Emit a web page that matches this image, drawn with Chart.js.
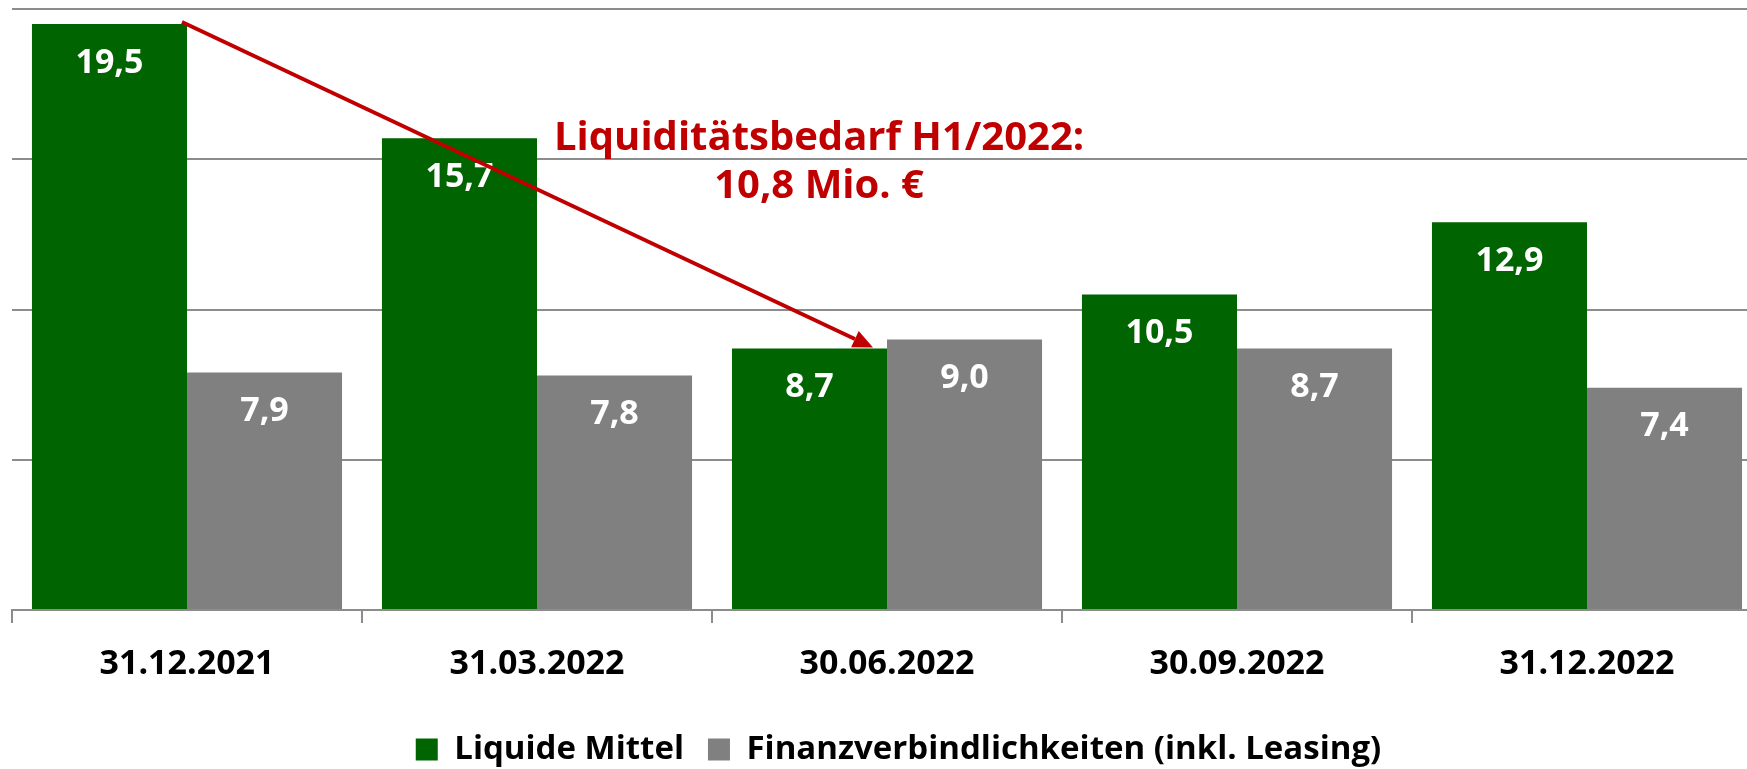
<!DOCTYPE html>
<html>
<head>
<meta charset="utf-8">
<script src="https://cdn.jsdelivr.net/npm/chart.js@4"></script>
<style>
  html, body { margin: 0; padding: 0; background: #fff; overflow: hidden; width: 1747px; height: 769px; }
  canvas { display: block; }
</style>
</head>
<body>
<canvas id="chart" width="1797" height="776"></canvas>
<script>
const categories = ["31.12.2021", "31.03.2022", "30.06.2022", "30.09.2022", "31.12.2022"];
const liquideMittel = [19.5, 15.7, 8.7, 10.5, 12.9];
const finanzVerb = [7.9, 7.8, 9.0, 8.7, 7.4];
const seriesNames = ["Liquide Mittel", "Finanzverbindlichkeiten (inkl. Leasing)"];
const noteLines = ["Liquiditätsbedarf H1/2022:", "10,8 Mio. €"];

const FONT = "'Open Sans', 'DejaVu Sans', sans-serif";
const GRID = "#8c8c8c";
const RED = "#c00000";

// white value labels inside the bars
const barLabels = {
  id: "barLabels",
  afterDatasetsDraw(chart) {
    const ctx = chart.ctx;
    ctx.save();
    ctx.fillStyle = "#fff";
    ctx.font = "bold 34px " + FONT;
    ctx.textAlign = "center";
    ctx.textBaseline = "middle";
    chart.data.datasets.forEach((ds, i) => {
      chart.getDatasetMeta(i).data.forEach((bar, j) => {
        const txt = ds.data[j].toFixed(1).replace(".", ",");
        ctx.fillText(txt, bar.x, bar.y + 39);
      });
    });
    ctx.restore();
  }
};

// red arrow from the first cash bar to the 30.06. cash bar, plus the note
const arrowNote = {
  id: "arrowNote",
  afterDatasetsDraw(chart) {
    const ctx = chart.ctx;
    const bars = chart.getDatasetMeta(0).data;
    const a = bars[0], b = bars[2];
    const x1 = a.x + a.width / 2 - 5, y1 = a.y - 2;
    const x2 = b.x + b.width / 2 - 14, y2 = b.y - 1;
    const ang = Math.atan2(y2 - y1, x2 - x1);
    const head = 20, half = 9;
    ctx.save();
    ctx.strokeStyle = RED;
    ctx.fillStyle = RED;
    ctx.lineWidth = 3.8;
    ctx.beginPath();
    ctx.moveTo(x1, y1);
    ctx.lineTo(x2 - head * Math.cos(ang), y2 - head * Math.sin(ang));
    ctx.stroke();
    ctx.beginPath();
    ctx.moveTo(x2, y2);
    ctx.lineTo(x2 - head * Math.cos(ang) + half * Math.sin(ang), y2 - head * Math.sin(ang) - half * Math.cos(ang));
    ctx.lineTo(x2 - head * Math.cos(ang) - half * Math.sin(ang), y2 - head * Math.sin(ang) + half * Math.cos(ang));
    ctx.closePath();
    ctx.fill();

    const xs = chart.scales.x, ys = chart.scales.y;
    const tx = xs.getPixelForValue(1.806);
    ctx.font = "bold 40px " + FONT;
    ctx.textAlign = "center";
    ctx.textBaseline = "middle";
    ctx.fillText(noteLines[0], tx, ys.getPixelForValue(15.7));
    ctx.fillText(noteLines[1], tx, ys.getPixelForValue(14.1));
    ctx.restore();
  }
};

new Chart(document.getElementById("chart"), {
  type: "bar",
  data: {
    labels: categories,
    datasets: [
      {
        label: seriesNames[0],
        data: liquideMittel,
        backgroundColor: "#006400",
        categoryPercentage: 0.886,
        barPercentage: 1.0
      },
      {
        label: seriesNames[1],
        data: finanzVerb,
        backgroundColor: "#808080",
        categoryPercentage: 0.886,
        barPercentage: 1.0
      }
    ]
  },
  options: {
    responsive: false,
    animation: false,
    layout: { padding: { top: 9, left: 0, right: 0, bottom: 0 } },
    plugins: {
      tooltip: { enabled: false },
      legend: {
        position: "bottom",
        labels: {
          color: "#000",
          font: { family: FONT, size: 33, weight: "bold" },
          boxWidth: 22,
          boxHeight: 22,
          padding: 24
        }
      }
    },
    scales: {
      x: {
        grid: {
          drawOnChartArea: false,
          drawTicks: true,
          tickLength: 13,
          color: GRID,
          lineWidth: 2
        },
        border: { display: true, color: GRID, width: 2 },
        ticks: {
          color: "#000",
          padding: 21,
          font: { family: FONT, size: 34, weight: "bold" }
        },
        afterFit(scale) { scale.height = 99; }
      },
      y: {
        min: 0,
        max: 20,
        ticks: { stepSize: 5, display: false },
        grid: { color: GRID, lineWidth: 2, drawTicks: false },
        border: { display: false },
        afterFit(scale) { scale.width = 12; }
      },
      y2: {
        position: "right",
        min: 0,
        max: 20,
        ticks: { display: false },
        grid: { display: false },
        border: { display: false },
        afterFit(scale) { scale.width = 35; }
      }
    }
  },
  plugins: [barLabels, arrowNote]
});
</script>
</body>
</html>
